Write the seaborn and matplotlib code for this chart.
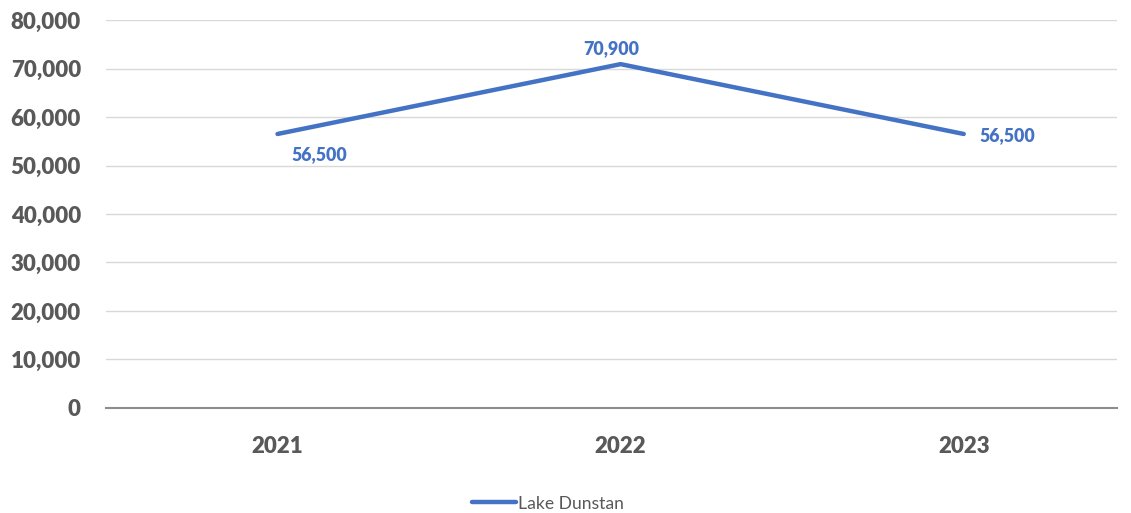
import matplotlib
matplotlib.use("Agg")
import matplotlib.pyplot as plt
import seaborn as sns
import pandas as pd

years = ["2021", "2022", "2023"]
visitors = [56500, 70900, 56500]
series_name = "Lake Dunstan"
y_ticks = [0, 10000, 20000, 30000, 40000, 50000, 60000, 70000, 80000]

df = pd.DataFrame({"year": years, "value": visitors, "series": series_name})

sns.set_theme(style="white")
plt.rcParams["font.family"] = ["Lato", "DejaVu Sans"]

blue = "#4472C4"
grey_text = "#595959"

fig = plt.figure(figsize=(11.31, 5.13), dpi=100)
ax = fig.add_axes([0.0937, 0.2047, 0.8940, 0.7563])

sns.lineplot(data=df, x="year", y="value", hue="series", palette=[blue],
             linewidth=3.2, ax=ax, sort=False)

ax.set_ylim(0, 80000)
ax.set_xlim(-0.5, 2.447)
ax.set_yticks(y_ticks)
ax.set_yticklabels([f"{v:,}" for v in y_ticks])
ax.grid(axis="y", color="#D9D9D9", linewidth=1)
ax.set_axisbelow(True)
for s in ["top", "right", "left"]:
    ax.spines[s].set_visible(False)
ax.spines["bottom"].set_color("#8C8C8C")
ax.spines["bottom"].set_linewidth(1.5)
ax.tick_params(axis="both", length=0, labelsize=16, labelcolor=grey_text)
ax.tick_params(axis="y", pad=18)
ax.tick_params(axis="x", pad=20)
for lab in ax.get_xticklabels() + ax.get_yticklabels():
    lab.set_fontweight("heavy")
ax.set_xlabel("")
ax.set_ylabel("")

# value labels at each point
offsets = [(10, -15, "left"), (-7, 11.5, "center"), (11.5, -1.2, "left")]
for i, (v, (dx, dy, ha)) in enumerate(zip(visitors, offsets)):
    ax.annotate(f"{v:,}", (i, v), xytext=(dx, dy), textcoords="offset points",
                ha=ha, va="center", color=blue, fontsize=12.8, fontweight="heavy")

ax.legend(loc="upper center", bbox_to_anchor=(0.437, -0.185), frameon=False,
          handlelength=2.5, handletextpad=0.1, fontsize=12.6,
          labelcolor=grey_text)

fig.savefig("out.png", dpi=100)
